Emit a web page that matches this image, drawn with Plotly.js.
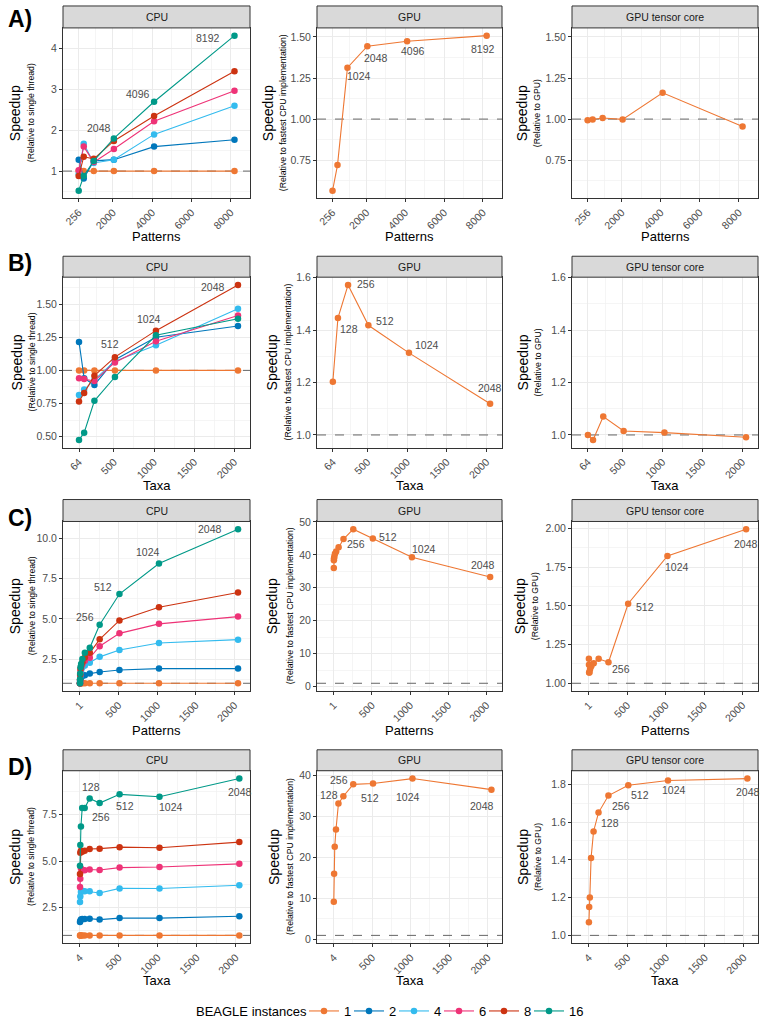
<!DOCTYPE html>
<html><head><meta charset="utf-8">
<script src="https://cdn.plot.ly/plotly-3.0.1.min.js"></script>
<style>html,body{margin:0;padding:0;background:#fff}#chart{width:766px;height:1026px}</style>
</head><body><div id="chart"></div>
<script>
// ---------------- DATA ----------------
const instances = ['1','2','4','6','8','16'];
const instanceColors = ['#EE7733','#0077BB','#33BBEE','#EE3377','#CC3311','#009988'];
const gpuColor = '#EE7733';
const legendTitle = 'BEAGLE instances';

// Row A (x = Patterns)
const patternsA = [256,512,1024,2048,4096,8192];
const cpuA = [
  [1,1,1,1,1,1],
  [1.28,0.82,1.25,1.28,1.60,1.77],
  [0.93,1.67,1.20,1.28,1.90,2.60],
  [1.02,1.60,1.22,1.54,2.22,2.97],
  [0.88,1.35,1.30,1.74,2.35,3.45],
  [0.52,0.88,1.25,1.80,2.70,4.32]
];
const gpuA = [0.564,0.72,1.313,1.444,1.474,1.508];
const tensorA = [0.993,0.998,1.007,0.998,1.16,0.955];

// Row B (x = Taxa)
const taxaB = [64,128,256,512,1024,2048];
const cpuB = [
  [1,1,1,1,1,1],
  [1.215,0.94,0.89,1.08,1.25,1.335],
  [0.815,0.855,0.93,1.07,1.19,1.465],
  [0.94,0.935,0.92,1.06,1.22,1.415],
  [0.765,0.83,0.96,1.10,1.30,1.645],
  [0.475,0.53,0.77,0.95,1.265,1.39]
];
const gpuB = [1.203,1.446,1.572,1.418,1.313,1.119];
const tensorB = [1.0,0.981,1.07,1.015,1.009,0.991];

// Row C (x = Patterns)
const patternsC = [1,2,4,8,16,32,64,128,256,512,1024,2048];
const cpuC = [
  [1,1,1,1,1,1,1,1,1,1,1,1],
  [1.0,1.1,1.2,1.3,1.4,1.45,1.5,1.6,1.7,1.82,1.91,1.91],
  [1.0,1.15,1.4,1.6,1.8,2.0,2.1,2.27,2.64,3.07,3.5,3.71],
  [1.0,1.2,1.5,1.8,2.0,2.2,2.4,2.58,3.3,4.1,4.69,5.14],
  [1.0,1.2,1.55,1.9,2.1,2.3,2.6,2.89,3.73,4.9,5.72,6.64],
  [1.0,1.25,1.6,2.0,2.2,2.5,2.9,3.2,4.63,6.54,8.44,10.57]
];
const gpuC = [36.0,38.4,39.0,39.5,40.3,41.0,42.3,44.8,47.8,45.0,39.3,33.3];
const tensorC = [1.158,1.12,1.07,1.07,1.09,1.11,1.13,1.158,1.136,1.514,1.823,1.996];

// Row D (x = Taxa)
const taxaD = [4,8,16,32,64,128,256,512,1024,2048];
const cpuD = [
  [1,1,1,1,1,1,1,1,1,1],
  [1.72,1.78,1.85,1.88,1.88,1.90,1.85,1.93,1.93,2.03],
  [2.80,3.10,3.33,3.40,3.38,3.38,3.28,3.53,3.52,3.70],
  [3.60,4.05,4.60,4.50,4.50,4.55,4.52,4.65,4.68,4.85],
  [4.30,5.45,5.55,5.50,5.55,5.65,5.67,5.75,5.72,6.02],
  [4.75,5.87,6.86,7.85,7.85,8.37,8.12,8.59,8.46,9.44]
];
const gpuD = [9.2,16.0,22.6,26.8,33.1,34.9,37.8,38.0,39.2,36.5];
const tensorD = [1.07,1.15,1.20,1.41,1.55,1.65,1.74,1.795,1.82,1.83];

// tick labels
const xTicksA = [256,2000,4000,6000,8000];
const xTicksB = [64,500,1000,1500,2000];
const xTicksC = [1,500,1000,1500,2000];
const xTicksD = [4,500,1000,1500,2000];
const yTicksCpuA = [1,2,3,4];
const yTicksGpuA = [0.75,1.00,1.25,1.50];
const yTicksCpuB = [0.50,0.75,1.00,1.25,1.50];
const yTicksGpuB = [1.0,1.2,1.4,1.6];
const yTicksCpuC = [2.5,5.0,7.5,10.0];
const yTicksGpuC = [0,10,20,30,40,50];
const yTicksTensorC = [1.00,1.25,1.50,1.75,2.00];
const yTicksCpuD = [2.5,5.0,7.5];
const yTicksGpuD = [0,10,20,30,40];
const yTicksTensorD = [1.0,1.2,1.4,1.6,1.8];

// point labels (text = x value)
const labCpuA = ['2048','4096','8192'];
const labGpuA = ['1024','2048','4096','8192'];
const labCpuB = ['512','1024','2048'];
const labGpuB = ['128','256','512','1024','2048'];
const labCpuC = ['256','512','1024','2048'];
const labGpuC = ['256','512','1024','2048'];
const labTensorC = ['256','512','1024','2048'];
const labCpuD = ['128','256','512','1024','2048'];
const labGpuD = ['128','256','512','1024','2048'];
const labTensorD = ['128','256','512','1024','2048'];

// ---------------- LAYOUT CONSTANTS ----------------
const W = 766, H = 1026;
const FONT = 'Liberation Sans, Arial, Helvetica, sans-serif';
const colPx = [[63,250],[317,502],[572,758]];
const rowPx = [[28,199],[278,449],[523,693],[773,946]];
const stripPx = [[6,28],[257,278],[501,523],[752,773]];
const xTitleY = [237,487,733,983];
const rowLetterY = [19,264,520,769];
const rowLetters = ['A)','B)','C)','D)'];
const yTitleX = [
  [[15,31],[268,283],[522,537]],
  [[17,32],[272,288],[523,538]],
  [[15,32],[272,290],[520,535]],
  [[15,31],[274,290],[523,538]]
];
const stripNames = ['CPU','GPU','GPU tensor core'];
const subTitles = ['(Relative to single thread)','(Relative to fastest CPU implementation)','(Relative to GPU)'];
const legendY = 1014, legendX0 = 304, legendStep = 45;

const shifts = {
  cpuA: [[-15,10],[-16,8],[-26,-2]],
  gpuA: [[12,-8],[9,-12],[6,-10],[-4,-13]],
  cpuB: [[-5,13],[-7,12],[-25,-2]],
  gpuB: [[11,-11],[18,1],[17,4],[18,8],[0,16]],
  cpuC: [[-15,8],[-16,7],[-11,11],[-28,0]],
  gpuC: [[3,-15],[15,1],[12,8],[-7,12]],
  tensorC: [[13,-7],[17,-3],[10,-11],[0,-15]],
  cpuD: [[1,11],[1,-14],[5,-12],[11,-10],[1,-13]],
  gpuD: [[-14,1],[-14,4],[-3,-14],[-4,-18],[-9,-16]],
  tensorD: [[11,-10],[13,-10],[12,-10],[6,-10],[1,-13]]
};

const rows = [
  {x: patternsA, xTitle:'Patterns', xTicks:xTicksA, xRange:[-544,8982], sharedGpu:true,
   panels:[{series:cpuA, yt:yTicksCpuA, dec:0, lab:labCpuA, sh:shifts.cpuA},
           {series:[gpuA], yt:yTicksGpuA, dec:2, lab:labGpuA, sh:shifts.gpuA},
           {series:[tensorA], yt:yTicksGpuA, dec:2, lab:[], sh:[]}]},
  {x: taxaB, xTitle:'Taxa', xTicks:xTicksB, xRange:[-136,2198], sharedGpu:true,
   panels:[{series:cpuB, yt:yTicksCpuB, dec:2, lab:labCpuB, sh:shifts.cpuB},
           {series:[gpuB], yt:yTicksGpuB, dec:1, lab:labGpuB, sh:shifts.gpuB},
           {series:[tensorB], yt:yTicksGpuB, dec:1, lab:[], sh:[]}]},
  {x: patternsC, xTitle:'Patterns', xTicks:xTicksC, xRange:[-219,2203], sharedGpu:false,
   panels:[{series:cpuC, yt:yTicksCpuC, dec:1, lab:labCpuC, sh:shifts.cpuC},
           {series:[gpuC], yt:yTicksGpuC, dec:0, lab:labGpuC, sh:shifts.gpuC},
           {series:[tensorC], yt:yTicksTensorC, dec:2, lab:labTensorC, sh:shifts.tensorC}]},
  {x: taxaD, xTitle:'Taxa', xTicks:xTicksD, xRange:[-214,2185], sharedGpu:false,
   panels:[{series:cpuD, yt:yTicksCpuD, dec:1, lab:labCpuD, sh:shifts.cpuD},
           {series:[gpuD], yt:yTicksGpuD, dec:0, lab:labGpuD, sh:shifts.gpuD},
           {series:[tensorD], yt:yTicksTensorD, dec:1, lab:labTensorD, sh:shifts.tensorD}]}
];

function yrange(seriesList){
  let mn = 1, mx = 1;
  seriesList.forEach(s => s.forEach(v => { mn = Math.min(mn,v); mx = Math.max(mx,v); }));
  const pad = (mx-mn)*0.05;
  return [mn-pad, mx+pad];
}
function minorOf(t){
  const out = [];
  if (t.length > 1) out.push(t[0] - (t[1]-t[0])/2);
  for (let i=0;i<t.length-1;i++) out.push((t[i]+t[i+1])/2);
  if (t.length > 1) out.push(t[t.length-1] + (t[t.length-1]-t[t.length-2])/2);
  return out;
}
const py = p => 1 - p/H;
const pxx = p => p/W;

const traces = [];
const layout = {
  width: W, height: H, margin:{l:0,r:0,t:0,b:0},
  paper_bgcolor:'#fff', plot_bgcolor:'#fff',
  font:{family:FONT, color:'#000'},
  showlegend:true,
  annotations:[
    {xref:'paper', yref:'paper', x:pxx(309), y:py(legendY), xanchor:'right', yanchor:'middle',
     text: legendTitle, showarrow:false, font:{size:13, family:FONT, color:'#000'}}
  ], shapes:[]
};
// one small legend box per BEAGLE instance, laid side by side
const legendKey = i => i===0 ? 'legend' : 'legend'+(i+1);
instances.forEach((_, i) => {
  layout[legendKey(i)] = {orientation:'h', x:pxx(legendX0 + legendStep*i), xanchor:'left',
    y:py(legendY), yanchor:'middle', font:{size:13, family:FONT, color:'#000'},
    itemwidth:30, bgcolor:'rgba(0,0,0,0)', borderwidth:0};
});

let n = 0;
rows.forEach((row, ri) => {
  const sharedR = row.sharedGpu ? yrange(row.panels[1].series.concat(row.panels[2].series)) : null;
  row.panels.forEach((p, ci) => {
    n++;
    const xs = n===1 ? '' : String(n);
    const xa = 'x'+xs, ya = 'y'+xs;
    const yr = (ci>0 && sharedR) ? sharedR : yrange(p.series);
    const cols = ci===0 ? instanceColors : [gpuColor];
    // dashed reference line at 1 (drawn beneath data)
    traces.push({type:'scatter', mode:'lines', x: row.xRange, y:[1,1], xaxis: xa, yaxis: ya,
      showlegend:false, hoverinfo:'skip', line:{color:'#666666', width:1, dash:'dash'}});
    p.series.forEach((s, si) => {
      const t = {
        type:'scatter', mode:'lines+markers', x: row.x, y: s, xaxis: xa, yaxis: ya,
        name: ci===0 ? instances[si] : 'GPU',
        showlegend: (n===1),
        line:{color: cols[si], width:1.1}, marker:{color: cols[si], size:6.5},
        hoverinfo:'skip'
      };
      if (n===1) t.legend = legendKey(si);
      traces.push(t);
    });
    layout['xaxis'+xs] = {
      domain:[pxx(colPx[ci][0]), pxx(colPx[ci][1])], anchor: ya, range: row.xRange,
      tickvals: row.xTicks, ticktext: row.xTicks.map(String), tickangle:-45,
      ticks:'outside', ticklen:3, tickcolor:'#333', tickwidth:1,
      tickfont:{size:10.5, color:'#4D4D4D', family:FONT},
      showline:true, mirror:true, linecolor:'#333', linewidth:1,
      showgrid:true, gridcolor:'#EBEBEB', gridwidth:1, zeroline:false,
      minor:{tickvals: minorOf(row.xTicks), showgrid:true, gridcolor:'#F1F1F1', gridwidth:0.7, ticks:''},
      fixedrange:true
    };
    layout['yaxis'+xs] = {
      domain:[py(rowPx[ri][1]), py(rowPx[ri][0])], anchor: xa, range: yr,
      tickvals: p.yt, ticktext: p.yt.map(v => v.toFixed(p.dec)),
      ticks:'outside', ticklen:3, tickcolor:'#333', tickwidth:1,
      tickfont:{size:10.5, color:'#4D4D4D', family:FONT},
      showline:true, mirror:true, linecolor:'#333', linewidth:1,
      showgrid:true, gridcolor:'#EBEBEB', gridwidth:1, zeroline:false,
      minor:{tickvals: minorOf(p.yt), showgrid:true, gridcolor:'#F1F1F1', gridwidth:0.7, ticks:''},
      fixedrange:true
    };
    // strip
    const x0 = pxx(colPx[ci][0]), x1 = pxx(colPx[ci][1]);
    layout.shapes.push({type:'rect', xref:'paper', x0: x0, x1: x1, yref:'paper',
      y0: py(stripPx[ri][1]), y1: py(stripPx[ri][0]),
      fillcolor:'#D9D9D9', line:{color:'#333333', width:1}});
    layout.annotations.push({xref:'paper', x:(x0+x1)/2, yref:'paper', y: py((stripPx[ri][0]+stripPx[ri][1])/2),
      text: stripNames[ci], showarrow:false, font:{size:10.5, color:'#1A1A1A', family:FONT}, xanchor:'center', yanchor:'middle'});
    // y titles
    const yc = py((rowPx[ri][0]+rowPx[ri][1])/2);
    layout.annotations.push({xref:'paper', x: pxx(yTitleX[ri][ci][0]), yref:'paper', y: yc, text:'Speedup',
      textangle:-90, showarrow:false, font:{size:14, color:'#000', family:FONT}, xanchor:'center', yanchor:'middle'});
    layout.annotations.push({xref:'paper', x: pxx(yTitleX[ri][ci][1]), yref:'paper', y: yc, text: subTitles[ci],
      textangle:-90, showarrow:false, font:{size:8.7, color:'#000', family:FONT}, xanchor:'center', yanchor:'middle'});
    // x title
    layout.annotations.push({xref:'paper', x:(x0+x1)/2, yref:'paper', y: py(xTitleY[ri]), text: row.xTitle,
      showarrow:false, font:{size:13, color:'#000', family:FONT}, xanchor:'center', yanchor:'middle'});
    // point labels
    p.lab.forEach((t, li) => {
      const xv = Number(t);
      const idx = row.x.indexOf(xv);
      let yv = -Infinity;
      p.series.forEach(s => { yv = Math.max(yv, s[idx]); });
      layout.annotations.push({xref: xa, yref: ya, x: xv, y: yv, text: t, showarrow:false,
        xshift: p.sh[li][0], yshift: p.sh[li][1], xanchor:'center', yanchor:'middle',
        font:{size:10.5, color:'#4D4D4D', family:FONT}});
    });
  });
  // row letter
  layout.annotations.push({xref:'paper', x: pxx(6), yref:'paper', y: py(rowLetterY[ri]), text:'<b>'+rowLetters[ri]+'</b>',
    showarrow:false, xanchor:'left', yanchor:'middle', font:{size:23, color:'#000', family:FONT}});
});

Plotly.newPlot('chart', traces, layout, {staticPlot:true, displayModeBar:false});
</script>
</body></html>
